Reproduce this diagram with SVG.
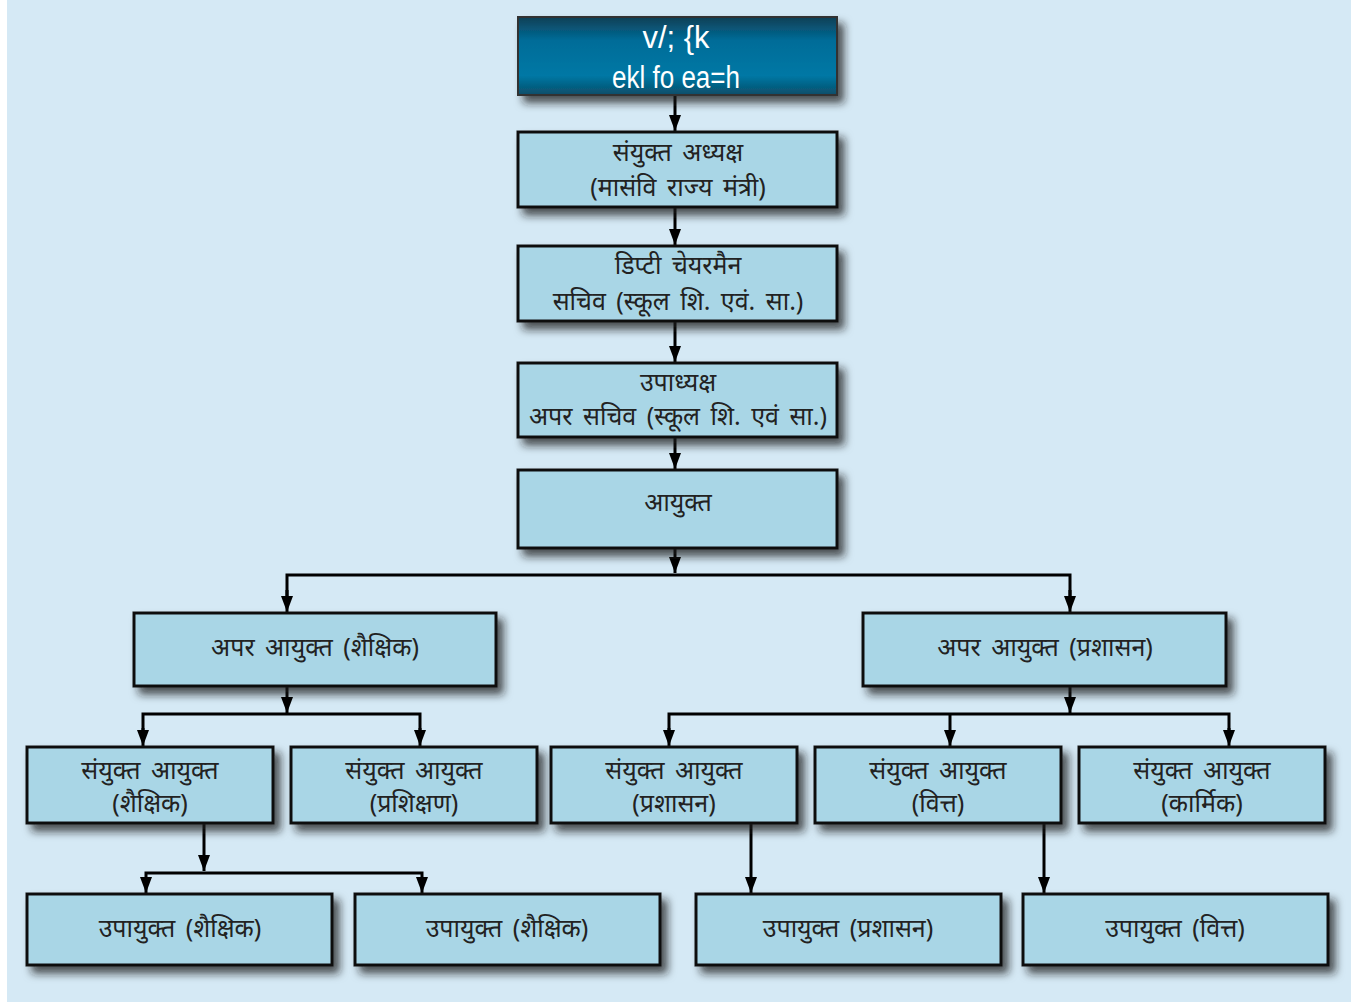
<svg xmlns="http://www.w3.org/2000/svg" width="1351" height="1002" viewBox="0 0 1351 1002">
<defs>
<filter id="sh" x="-10%" y="-20%" width="130%" height="160%">
<feDropShadow dx="6" dy="7" stdDeviation="4" flood-color="#1a1a1a" flood-opacity="0.75"/>
</filter>
<linearGradient id="top" x1="0" y1="0" x2="0" y2="1">
<stop offset="0" stop-color="#0f3f55"/>
<stop offset="0.3" stop-color="#006c98"/>
<stop offset="0.75" stop-color="#0078a5"/>
<stop offset="1" stop-color="#0a4d68"/>
</linearGradient>
<marker id="ah" viewBox="0 0 16 12" refX="16" refY="6" markerWidth="16" markerHeight="12" markerUnits="userSpaceOnUse" orient="auto">
<path d="M0,0 L16,6 L0,12 Z" fill="#000"/>
</marker>
<style>
.box{fill:#a9d6e6;stroke:#111;stroke-width:3;filter:url(#sh)}
.t{font-family:"Noto Sans","Noto Sans Devanagari","Lohit Devanagari",sans-serif;font-size:25px;word-spacing:4px;fill:#222;text-anchor:middle}
.w{font-family:"Liberation Sans",Arial,sans-serif;font-size:31px;fill:#fff;text-anchor:middle}
.c{fill:none;stroke:#000;stroke-width:3}
.ca{fill:none;stroke:#000;stroke-width:3;marker-end:url(#ah)}
</style>
</defs>
<rect x="0" y="0" width="1351" height="1002" fill="#ffffff"/>
<rect x="7" y="0" width="1344" height="1002" fill="#d5e9f5"/>

<g id="connectors">
<path class="ca" d="M675,95 V131"/>
<path class="ca" d="M675,207 V245"/>
<path class="ca" d="M675,321 V362"/>
<path class="ca" d="M675,437 V469"/>
<path class="ca" d="M675,548 V573"/>
<path class="c" d="M287,600 V575 H1070 V600"/>
<path class="ca" d="M287,590 V612"/>
<path class="ca" d="M1070,590 V612"/>
<path class="ca" d="M287,686 V713"/>
<path class="c" d="M143,735 V714 H420 V735"/>
<path class="ca" d="M143,728 V746"/>
<path class="ca" d="M420,728 V746"/>
<path class="ca" d="M1070,686 V713"/>
<path class="c" d="M669,735 V714 H1229 V735"/>
<path class="ca" d="M669,728 V746"/>
<path class="ca" d="M950,714 V746"/>
<path class="ca" d="M1229,728 V746"/>
<path class="ca" d="M204,823 V871"/>
<path class="c" d="M146,885 V873 H422 V885"/>
<path class="ca" d="M146,878 V893"/>
<path class="ca" d="M422,878 V893"/>
<path class="ca" d="M751,823 V893"/>
<path class="ca" d="M1044,823 V893"/>
</g>

<g id="n-top">
<rect x="518" y="17" width="319" height="78" fill="url(#top)" stroke="#333" stroke-width="2" filter="url(#sh)"/>
<text class="w" x="676" y="48" textLength="67" lengthAdjust="spacingAndGlyphs">v/; {k</text>
<text class="w" x="676" y="88" textLength="128" lengthAdjust="spacingAndGlyphs">ekl fo ea=h</text>
</g>
<g id="n-sanyukt-adhyaksh">
<rect class="box" x="518" y="132" width="319" height="75"/>
<text class="t" x="678" y="161">संयुक्त अध्यक्ष</text>
<text class="t" x="678" y="196">(मासंवि राज्य मंत्री)</text>
</g>
<g id="n-deputy">
<rect class="box" x="518" y="246" width="319" height="75"/>
<text class="t" x="678" y="274">डिप्टी चेयरमैन</text>
<text class="t" x="678" y="310">सचिव (स्कूल शि. एवं. सा.)</text>
</g>
<g id="n-upadhyaksh">
<rect class="box" x="518" y="363" width="319" height="74"/>
<text class="t" x="678" y="391">उपाध्यक्ष</text>
<text class="t" x="678" y="425">अपर सचिव (स्कूल शि. एवं सा.)</text>
</g>
<g id="n-ayukt">
<rect class="box" x="518" y="470" width="319" height="78"/>
<text class="t" x="678" y="511">आयुक्त</text>
</g>
<g id="n-apar-shaikshik">
<rect class="box" x="134" y="613" width="362" height="73"/>
<text class="t" x="315" y="656">अपर आयुक्त (शैक्षिक)</text>
</g>
<g id="n-apar-prashasan">
<rect class="box" x="863" y="613" width="363" height="73"/>
<text class="t" x="1045" y="656">अपर आयुक्त (प्रशासन)</text>
</g>
<g id="n-sa-shaikshik">
<rect class="box" x="27" y="747" width="246" height="76"/>
<text class="t" x="150" y="779">संयुक्त आयुक्त</text>
<text class="t" x="150" y="812">(शैक्षिक)</text>
</g>
<g id="n-sa-prashikshan">
<rect class="box" x="291" y="747" width="246" height="76"/>
<text class="t" x="414" y="779">संयुक्त आयुक्त</text>
<text class="t" x="414" y="812">(प्रशिक्षण)</text>
</g>
<g id="n-sa-prashasan">
<rect class="box" x="551" y="747" width="246" height="76"/>
<text class="t" x="674" y="779">संयुक्त आयुक्त</text>
<text class="t" x="674" y="812">(प्रशासन)</text>
</g>
<g id="n-sa-vitt">
<rect class="box" x="815" y="747" width="246" height="76"/>
<text class="t" x="938" y="779">संयुक्त आयुक्त</text>
<text class="t" x="938" y="812">(वित्त)</text>
</g>
<g id="n-sa-karmik">
<rect class="box" x="1079" y="747" width="246" height="76"/>
<text class="t" x="1202" y="779">संयुक्त आयुक्त</text>
<text class="t" x="1202" y="812">(कार्मिक)</text>
</g>
<g id="n-up-shaikshik-1">
<rect class="box" x="27" y="894" width="305" height="71"/>
<text class="t" x="180" y="937">उपायुक्त (शैक्षिक)</text>
</g>
<g id="n-up-shaikshik-2">
<rect class="box" x="355" y="894" width="305" height="71"/>
<text class="t" x="507" y="937">उपायुक्त (शैक्षिक)</text>
</g>
<g id="n-up-prashasan">
<rect class="box" x="696" y="894" width="305" height="71"/>
<text class="t" x="848" y="937">उपायुक्त (प्रशासन)</text>
</g>
<g id="n-up-vitt">
<rect class="box" x="1023" y="894" width="305" height="71"/>
<text class="t" x="1175" y="937">उपायुक्त (वित्त)</text>
</g>
</svg>
